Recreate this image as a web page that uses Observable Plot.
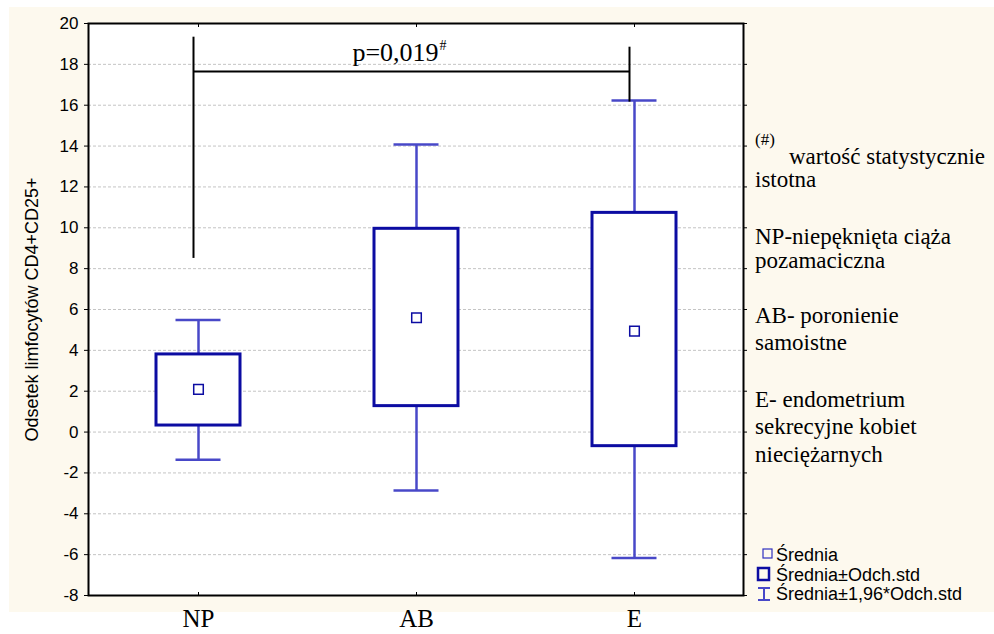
<!DOCTYPE html>
<html><head><meta charset="utf-8">
<script src="https://cdn.jsdelivr.net/npm/d3@7"></script>
<script src="https://cdn.jsdelivr.net/npm/@observablehq/plot@0.6"></script>
<style>
body{margin:0;background:#fff;width:994px;height:634px;position:relative;overflow:hidden}
#cream{position:absolute;left:9px;top:7px;width:985px;height:605px;background:#fdf9ee}
#chart{position:absolute;left:0;top:0}
#overlay{position:absolute;left:0;top:0}
</style></head><body>
<div id="cream"></div>
<div id="chart"></div>
<svg id="overlay" width="994" height="634"></svg>
<script>
// ---- data ----
const groups = ["NP", "AB", "E"];
const means = [2.09, 5.6, 4.94];
const sdLow = [0.32, 1.27, -0.69];
const sdHigh = [3.8, 9.95, 10.73];
const ciLow = [-1.36, -2.86, -6.17];
const ciHigh = [5.48, 14.08, 16.23];
const yTicks = [-8, -6, -4, -2, 0, 2, 4, 6, 8, 10, 12, 14, 16, 18, 20];
const yLabel = "Odsetek limfocytów CD4+CD25+";
const bracketGroups = ["NP", "E"];
const bracketTop = [19.33, 18.84];
const bracketBottom = [8.5, 16.15];
const bracketLevel = 17.65;
const pLabel = "p=0,019";
const pMark = "#";
const notes = ["wartość statystycznie", "istotna", "NP-niepęknięta ciąża", "pozamaciczna", "AB- poronienie", "samoistne", "E- endometrium", "sekrecyjne kobiet", "nieciężarnych"];
const legendLabels = ["Średnia", "Średnia±Odch.std", "Średnia±1,96*Odch.std"];

const data = groups.map((g, i) => ({g, mean: means[i], lo: sdLow[i], hi: sdHigh[i], cl: ciLow[i], ch: ciHigh[i]}));
const bracket = bracketGroups.map((g, i) => ({g, top: bracketTop[i], bottom: bracketBottom[i]}));

const boxColor = "#0c0ca2";
const whiskColor = "#4848c8";
const serif = "Liberation Serif, Times New Roman, serif";
const sans = "Liberation Sans, Arial, sans-serif";

const chart = Plot.plot({
  width: 994, height: 634,
  marginLeft: 88, marginRight: 251, marginTop: 23, marginBottom: 39,
  style: {background: "transparent", fontFamily: sans, overflow: "visible"},
  x: {domain: groups, padding: 0},
  y: {domain: [-8, 20]},
  marks: [
    Plot.frame({fill: "white"}),
    Plot.gridY(yTicks.filter(t => t > -8 && t < 20), {stroke: "#c4c4c4", strokeOpacity: 1, strokeDasharray: "3,2"}),
    Plot.ruleX(data, {x: "g", y1: "cl", y2: "ch", stroke: whiskColor, strokeWidth: 2.5}),
    Plot.tickY(data, {x: "g", y: "cl", insetLeft: 86.5, insetRight: 86.5, stroke: whiskColor, strokeWidth: 2.5}),
    Plot.tickY(data, {x: "g", y: "ch", insetLeft: 86.5, insetRight: 86.5, stroke: whiskColor, strokeWidth: 2.5}),
    Plot.barY(data, {x: "g", y1: "lo", y2: "hi", fill: "white", stroke: boxColor, strokeWidth: 3, insetLeft: 67, insetRight: 67}),
    Plot.dot(data, {x: "g", y: "mean", symbol: "square", r: 5.4, stroke: boxColor, fill: "white", strokeWidth: 1.5}),
    // significance bracket
    Plot.ruleX(bracket, {x: "g", y1: "bottom", y2: "top", stroke: "black", strokeWidth: 2, dx: -5}),
    Plot.link([{a: "NP", b: "E"}], {x1: "a", x2: "b", y1: bracketLevel, y2: bracketLevel, stroke: "black", strokeWidth: 2, dx: -5}),
    Plot.text([pLabel], {x: () => "AB", y: 18.15, text: d => d, dx: -21, lineAnchor: "bottom", fontFamily: serif, fontSize: 26, fill: "black"}),
    Plot.text([pMark], {x: () => "AB", y: 18.15, text: d => d, dx: 23, dy: -11, textAnchor: "start", lineAnchor: "bottom", fontFamily: serif, fontSize: 14, fill: "black"}),
    Plot.frame({stroke: "black", strokeWidth: 2}),
    Plot.axisY({ticks: yTicks, anchor: "left", tickSize: 4, tickPadding: 6, fontSize: 17, fill: "black", tickFormat: d => String(d), label: yLabel, labelAnchor: "center", labelOffset: 63, labelArrow: "none"}),
    Plot.axisY({ticks: yTicks, anchor: "right", tickSize: 3, text: null, label: null}),
    Plot.axisX({anchor: "bottom", tickSize: 0, tickPadding: 14, fontSize: 25, fontFamily: serif, fill: "black", label: null}),
    Plot.axisX({anchor: "bottom", tickSize: -3, text: null, label: null}),
    Plot.axisX({anchor: "top", tickSize: -3, text: null, label: null})
  ]
});
document.getElementById("chart").append(chart);
d3.select(chart).selectAll("[aria-label='y-axis label'] text, g[aria-label='y-axis label']").attr("font-size", 18).attr("fill", "black");

// ---- notes and legend overlay ----
const ov = d3.select("#overlay");
ov.append("text").attr("x", 755).attr("y", 145).attr("font-family", serif).attr("font-size", 17).text("(#)");
const noteX = [789, 755, 755, 755, 755, 755, 755, 755, 755];
const noteY = [164, 187, 244, 268, 323, 350, 407, 434, 462];
notes.forEach((t, i) => ov.append("text").attr("x", noteX[i]).attr("y", noteY[i]).attr("font-family", serif).attr("font-size", 23).text(t));

const legY = [561, 581, 600];
legendLabels.forEach((t, i) => ov.append("text").attr("x", 776).attr("y", legY[i]).attr("font-family", sans).attr("font-size", 18).text(t));
ov.append("rect").attr("x", 763).attr("y", 549).attr("width", 9).attr("height", 9).attr("fill", "none").attr("stroke", "#3030c0").attr("stroke-width", 1.2);
ov.append("rect").attr("x", 758).attr("y", 568).attr("width", 11).attr("height", 12).attr("fill", "none").attr("stroke", boxColor).attr("stroke-width", 2.5);
ov.append("path").attr("d", "M758,588H770M764,588V600M758,600H770").attr("fill", "none").attr("stroke", whiskColor).attr("stroke-width", 2);
</script>
</body></html>
